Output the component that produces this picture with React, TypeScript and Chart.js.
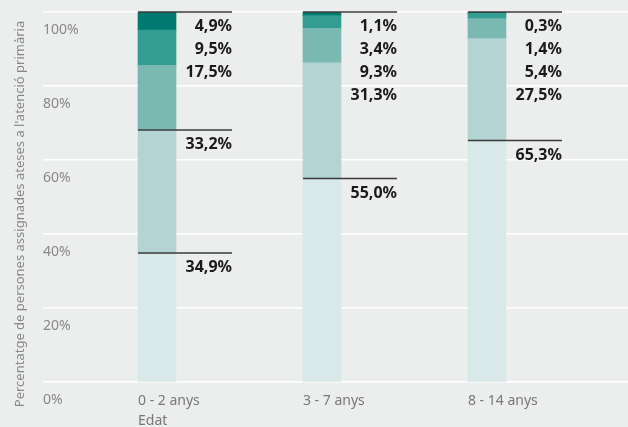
import { useEffect, useRef } from 'react';
import { Chart, registerables } from 'chart.js';

Chart.register(...registerables);

const categories = ['0 - 2 anys', '3 - 7 anys', '8 - 14 anys'];
const seg1 = [34.9, 55.0, 65.3];
const seg2 = [33.2, 31.3, 27.5];
const seg3 = [17.5, 9.3, 5.4];
const seg4 = [9.5, 3.4, 1.4];
const seg5 = [4.9, 1.1, 0.3];
// how many bottom segments get their own marker line (others stack under the 100% line)
const separateLabelCounts = [2, 1, 1];
const yTitle = "Percentatge de persones assignades ateses a l'atenció primària";
const xTitle = 'Edat';

const series = [seg1, seg2, seg3, seg4, seg5];
const colors = ['#d9e8e8', '#b3d4d3', '#7ab8b2', '#339d94', '#007a70'];
const FONT = '"Noto Sans", "Open Sans", sans-serif';
const BAR = 38;
const LINE_LEN = 94;

const fmt = (v: number) => v.toFixed(1).replace('.', ',') + '%';

const bgPlugin = {
  id: 'bg',
  beforeDraw(chart: any) {
    const { ctx, width, height } = chart;
    ctx.save();
    ctx.fillStyle = '#eceeed';
    ctx.fillRect(0, 0, width, height);
    ctx.restore();
  },
};

const labelPlugin = {
  id: 'segLabels',
  afterDatasetsDraw(chart: any) {
    const { ctx } = chart;
    const xs = chart.scales.x;
    const ys = chart.scales.y;
    ctx.save();
    categories.forEach((_, i) => {
      const left = xs.getPixelForValue(i) - BAR / 2;
      const right = left + LINE_LEN;
      const groups: { y: number; vals: number[] }[] = [];
      let cum = 0;
      for (let k = 0; k < separateLabelCounts[i]; k++) {
        cum += series[k][i];
        groups.push({ y: ys.getPixelForValue(cum), vals: [series[k][i]] });
      }
      const topVals: number[] = [];
      for (let k = series.length - 1; k >= separateLabelCounts[i]; k--) topVals.push(series[k][i]);
      groups.push({ y: ys.getPixelForValue(100), vals: topVals });
      groups.forEach((g) => {
        ctx.beginPath();
        ctx.strokeStyle = '#3a3a3a';
        ctx.lineWidth = 1.5;
        ctx.moveTo(left, g.y);
        ctx.lineTo(right, g.y);
        ctx.stroke();
        ctx.fillStyle = '#1a1a1a';
        ctx.font = `bold 16px ${FONT}`;
        ctx.textAlign = 'right';
        ctx.textBaseline = 'middle';
        g.vals.forEach((v, j) => {
          ctx.fillText(fmt(v), right, g.y + 14.5 + j * 23);
        });
      });
    });
    // axis titles
    ctx.fillStyle = '#888';
    ctx.font = `13px ${FONT}`;
    ctx.textAlign = 'center';
    ctx.textBaseline = 'middle';
    ctx.save();
    ctx.translate(20, 214);
    ctx.rotate(-Math.PI / 2);
    ctx.fillText(yTitle, 0, 0);
    ctx.restore();
    ctx.fillStyle = '#777';
    ctx.font = `14px ${FONT}`;
    ctx.textAlign = 'left';
    ctx.fillText(xTitle, xs.getPixelForValue(0) - BAR / 2, 421);
    ctx.restore();
  },
};

export default function App() {
  const ref = useRef<HTMLCanvasElement | null>(null);
  useEffect(() => {
    document.body.style.margin = '0';
    document.body.style.background = '#eceeed';
    Chart.defaults.font.family = FONT;
    const chart = new Chart(ref.current as HTMLCanvasElement, {
      type: 'bar',
      data: {
        datasets: series.map((s, k) => ({
          label: 'seg' + (k + 1),
          data: s.map((v, i) => ({ x: i, y: v })),
          backgroundColor: colors[k],
          borderWidth: 0,
          barThickness: BAR,
        })),
      },
      options: {
        animation: false,
        responsive: false,
        devicePixelRatio: 1,
        layout: { padding: { left: 43, top: 12, right: 0, bottom: 8 } },
        plugins: { legend: { display: false }, tooltip: { enabled: false } },
        scales: {
          x: {
            type: 'linear',
            stacked: true,
            offset: false,
            min: -0.691,
            max: 2.855,
            afterBuildTicks: (scale: any) => {
              scale.ticks = categories.map((_, i) => ({ value: i }));
            },
            grid: { display: false, drawTicks: false },
            border: { display: false },
            ticks: {
              callback: (v: any) => categories[v as number],
              align: 'start',
              labelOffset: -BAR / 2,
              padding: 10,
              color: '#777',
              font: { size: 14 },
              maxRotation: 0,
              autoSkip: false,
            },
          },
          y: {
            stacked: true,
            min: 0,
            max: 100,
            grid: { color: '#ffffff', lineWidth: 1.5, drawTicks: false },
            border: { display: false },
            ticks: {
              stepSize: 20,
              mirror: true,
              padding: 0,
              labelOffset: 18,
              color: '#888',
              font: { size: 14 },
              callback: (v: any) => v + '%',
            },
          },
        },
      } as any,
      plugins: [bgPlugin, labelPlugin],
    });
    return () => chart.destroy();
  }, []);
  return <canvas ref={ref} width={628} height={427} style={{ display: 'block' }} />;
}
